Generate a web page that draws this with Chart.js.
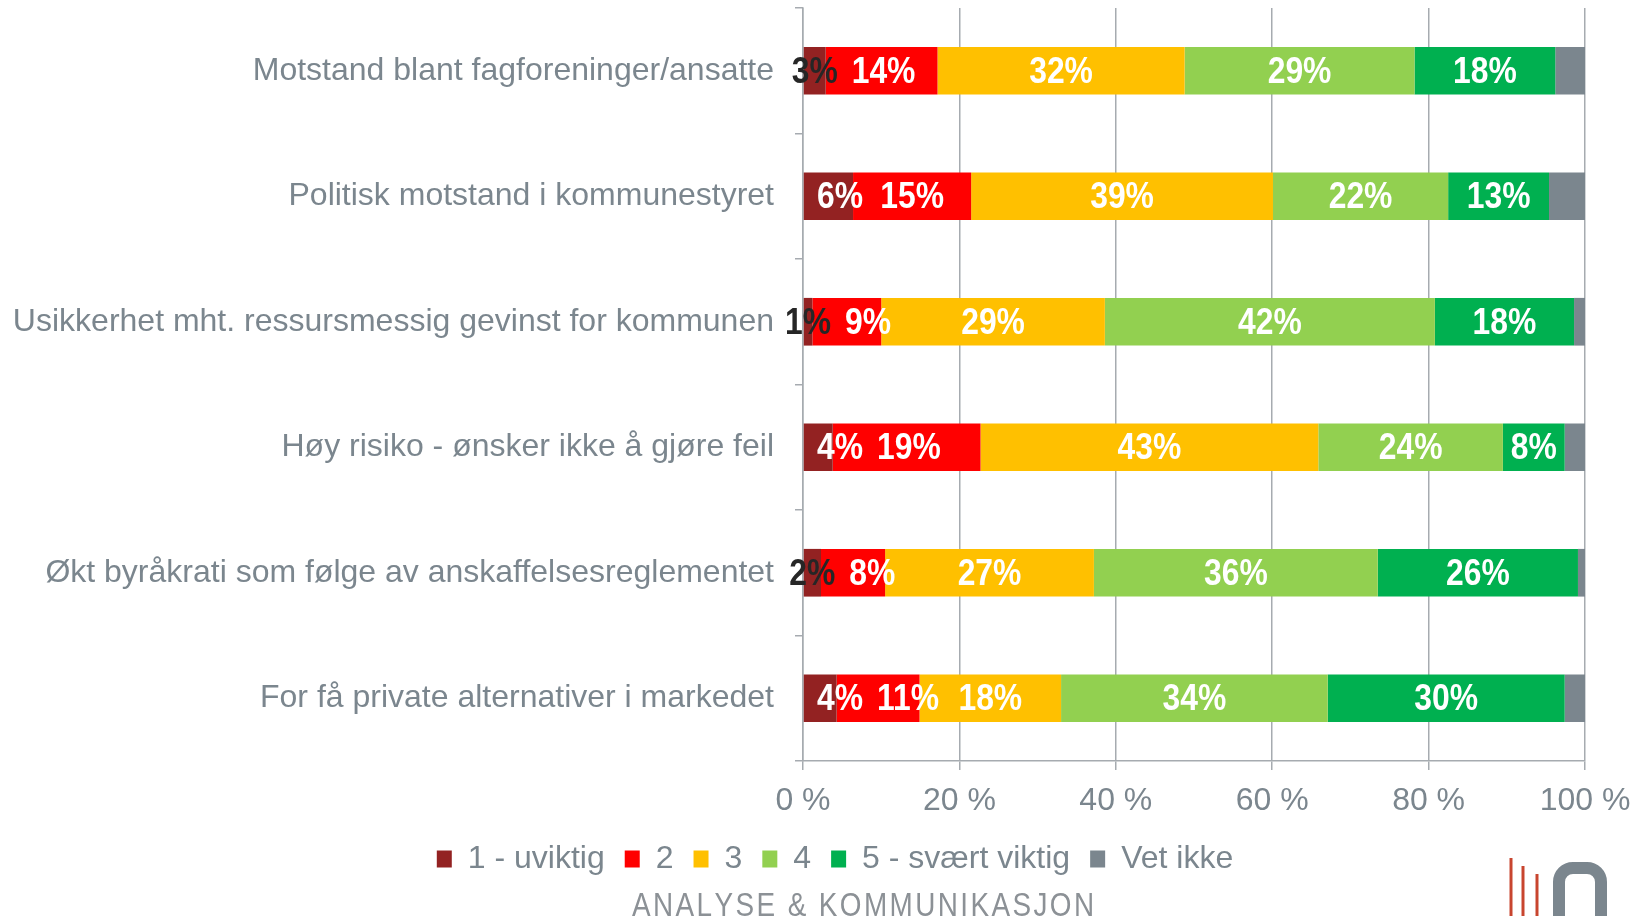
<!DOCTYPE html>
<html>
<head>
<meta charset="utf-8">
<script src="https://cdn.jsdelivr.net/npm/chart.js@4.4.0/dist/chart.umd.min.js"></script>
<style>
  html, body { margin: 0; padding: 0; background: #fff; }
  #wrap { width: 1644px; height: 916px; }
</style>
</head>
<body>
<div id="wrap"><canvas id="chart" width="1644" height="916"></canvas></div>
<script>
// Kategorier (y-akse)
const categories = [
  'Motstand blant fagforeninger/ansatte',
  'Politisk motstand i kommunestyret',
  'Usikkerhet mht. ressursmessig gevinst for kommunen',
  'Høy risiko - ønsker ikke å gjøre feil',
  'Økt byråkrati som følge av anskaffelsesreglementet',
  'For få private alternativer i markedet'
];

// Serier (prosent)
const seriesNames = ['1 - uviktig', '2', '3', '4', '5 - svært viktig', 'Vet ikke'];
const uviktig     = [2.9, 6.4, 1.2, 3.8, 2.3, 4.3];
const verdi2      = [14.3, 15.1, 8.8, 18.9, 8.2, 10.6];
const verdi3      = [31.6, 38.6, 28.6, 43.2, 26.7, 18.1];
const verdi4      = [29.4, 22.4, 42.2, 23.6, 36.3, 34.1];
const sværtViktig = [18.0, 12.9, 17.8, 7.9, 25.6, 30.3];
const vetIkke     = [3.8, 4.6, 1.4, 2.6, 0.9, 2.6];

// Akse-ticks
const xTicks = [0, 20, 40, 60, 80, 100];

const colors = ['#932222', '#ff0000', '#ffc000', '#92d050', '#00b050', '#7b868e'];
const grey = '#7b868e';
const gridGrey = '#a6abb0';
const sans = '"Liberation Sans", Arial, sans-serif';

// Etiketter inne i stolpene (smal, fet skrift), skyves til høyre hvis de kolliderer
const barLabels = {
  id: 'barLabels',
  afterDatasetsDraw(chart) {
    const ctx = chart.ctx;
    const squeeze = 0.86;
    const gap = 14;
    const axisLeft = chart.chartArea.left;
    ctx.save();
    ctx.font = 'bold 37px ' + sans;
    ctx.textAlign = 'left';
    ctx.textBaseline = 'middle';
    chart.data.labels.forEach((_, j) => {
      let lastRight = -Infinity;
      chart.data.datasets.forEach((ds, i) => {
        if (ds.noLabel) return;
        const v = ds.data[j];
        const bar = chart.getDatasetMeta(i).data[j];
        const p = bar.getProps(['x', 'base', 'y'], true);
        const txt = Math.round(v) + '%';
        const w = ctx.measureText(txt).width * squeeze;
        const dark = v < 3.5;
        let left = (p.x + p.base) / 2 - w / 2;
        if (!dark) left = Math.max(left, axisLeft + gap);
        left = Math.max(left, lastRight + gap);
        lastRight = left + w;
        ctx.fillStyle = dark ? '#262626' : '#ffffff';
        ctx.save();
        ctx.translate(left, p.y + 2);
        ctx.scale(squeeze, 1);
        ctx.fillText(txt, 0, 0);
        ctx.restore();
      });
    });
    ctx.restore();
  }
};

// Flytt legenden litt til høyre, som i originalen
const legendShift = {
  id: 'legendShift',
  afterLayout(chart) {
    const lg = chart.legend;
    if (!lg) return;
    lg.left = 35;
    lg.right = 1635;
  }
};

// Bunntekst og logo
const footer = {
  id: 'footer',
  afterDraw(chart) {
    const ctx = chart.ctx;
    ctx.save();
    ctx.font = '34px ' + sans;
    ctx.fillStyle = '#8c9196';
    ctx.textBaseline = 'alphabetic';
    const txt = 'ANALYSE & KOMMUNIKASJON';
    const sq = 0.82;
    const w = ctx.measureText(txt).width;
    const spacing = (460 / sq - w) / (txt.length - 1);
    ctx.save();
    ctx.translate(632, 916);
    ctx.scale(sq, 1);
    let x = 0;
    for (const ch of txt) {
      ctx.fillText(ch, x, 0);
      x += ctx.measureText(ch).width + spacing;
    }
    ctx.restore();
    // logo
    ctx.lineWidth = 3;
    ctx.strokeStyle = '#c8452f';
    [[1511, 858], [1523, 866], [1537, 874]].forEach(([lx, ly]) => {
      ctx.beginPath(); ctx.moveTo(lx, ly); ctx.lineTo(lx, 916); ctx.stroke();
    });
    ctx.lineWidth = 12;
    ctx.strokeStyle = grey;
    ctx.beginPath();
    ctx.roundRect(1559, 868, 42, 70, 14);
    ctx.stroke();
    ctx.restore();
  }
};

const datasetValues = [uviktig, verdi2, verdi3, verdi4, sværtViktig, vetIkke];

new Chart(document.getElementById('chart'), {
  type: 'bar',
  data: {
    labels: categories,
    datasets: datasetValues.map((vals, i) => ({
      label: seriesNames[i],
      data: vals,
      backgroundColor: colors[i],
      borderWidth: 0,
      barPercentage: 0.38,
      categoryPercentage: 1,
      noLabel: i === 5
    }))
  },
  options: {
    indexAxis: 'y',
    responsive: false,
    animation: false,
    layout: { padding: { top: 8, left: 0, right: 59, bottom: 31 } },
    scales: {
      x: {
        stacked: true,
        min: 0,
        max: 100,
        afterBuildTicks: (scale) => { scale.ticks = xTicks.map(v => ({ value: v })); },
        afterFit: (scale) => { scale.height = 62; },
        grid: { color: gridGrey, lineWidth: 1.5, tickLength: 9, drawTicks: true },
        border: { color: gridGrey, width: 1.5 },
        ticks: {
          color: grey,
          padding: 12,
          font: { family: sans, size: 32 },
          callback: (v) => v + ' %'
        }
      },
      y: {
        stacked: true,
        afterFit: (scale) => {
          scale.width = 803;
          scale.paddingTop = 0;
          scale.paddingBottom = 0;
        },
        grid: { drawOnChartArea: false, offset: true, tickLength: 8, color: gridGrey, lineWidth: 1.5 },
        border: { color: gridGrey, width: 1.5 },
        ticks: {
          color: grey,
          padding: 21,
          font: { family: sans, size: 32 }
        }
      }
    },
    plugins: {
      legend: {
        position: 'bottom',
        labels: {
          color: grey,
          boxWidth: 15,
          boxHeight: 17,
          padding: 20,
          font: { family: sans, size: 32 }
        }
      },
      tooltip: { enabled: false }
    }
  },
  plugins: [barLabels, legendShift, footer]
});
</script>
</body>
</html>
